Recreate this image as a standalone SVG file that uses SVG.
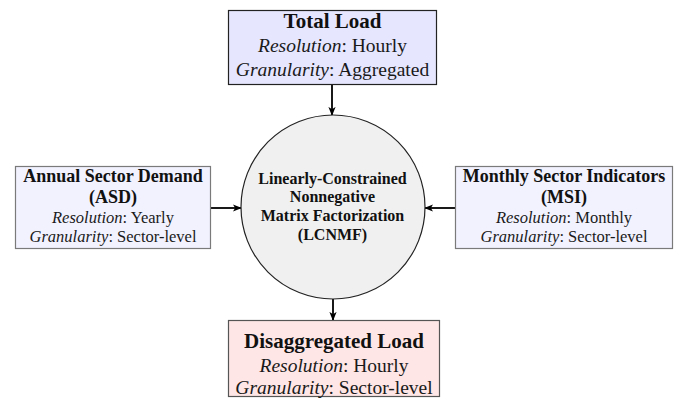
<svg xmlns="http://www.w3.org/2000/svg" width="678" height="406" viewBox="0 0 678 406">
<style>
text{font-family:"Liberation Serif","Times New Roman",serif;fill:#1a1a1a;text-anchor:middle}
.b{font-weight:bold;fill:#111}
.i{font-style:italic}
.big{font-size:21px}
.mid{font-size:19.5px}
.sb{font-size:18px}
.sm{font-size:16.5px}
.cb{font-size:16px;font-weight:bold;fill:#111}
.conn{stroke:#000;stroke-width:1.8;fill:none;marker-end:url(#ah)}
</style>
<defs>
<marker id="ah" viewBox="0 0 10 10" refX="9" refY="5" markerWidth="5" markerHeight="5" orient="auto" markerUnits="strokeWidth">
<path d="M0,1 L10,5 L0,9 L2.5,5 Z" fill="#000"/>
</marker>
</defs>
<rect width="678" height="406" fill="#fff"/>
<g id="connectors">
<line class="conn" x1="332" y1="85" x2="332" y2="115"/>
<line class="conn" x1="211" y1="208" x2="241" y2="208"/>
<line class="conn" x1="455" y1="208" x2="425" y2="208"/>
<line class="conn" x1="333" y1="299" x2="333" y2="320"/>
</g>
<g id="total-load">
<rect x="228.5" y="10.5" width="208" height="74" fill="#e6e6ff" stroke="#222" stroke-width="1.2"/>
<text class="b big" x="332.5" y="28">Total Load</text>
<text class="mid" x="332.5" y="52"><tspan class="i">Resolution</tspan>: Hourly</text>
<text class="mid" x="332.5" y="76"><tspan class="i">Granularity</tspan>: Aggregated</text>
</g>
<g id="lcnmf">
<circle cx="333" cy="207" r="92" fill="#f0f0f0" stroke="#222" stroke-width="1.2"/>
<text class="cb" x="332.5" y="184">Linearly-Constrained</text>
<text class="cb" x="332.5" y="202">Nonnegative</text>
<text class="cb" x="332.5" y="221">Matrix Factorization</text>
<text class="cb" x="332.5" y="240">(LCNMF)</text>
</g>
<g id="asd">
<rect x="15.5" y="166.5" width="195" height="82" fill="#f2f2ff" stroke="#7a7a7a" stroke-width="1.2"/>
<text class="b sb" x="113" y="182">Annual Sector Demand</text>
<text class="b sb" x="113" y="203">(ASD)</text>
<text class="sm" x="113" y="223"><tspan class="i">Resolution</tspan>: Yearly</text>
<text class="sm" x="113" y="242"><tspan class="i">Granularity</tspan>: Sector-level</text>
</g>
<g id="msi">
<rect x="455.5" y="166.5" width="217" height="82" fill="#f2f2ff" stroke="#7a7a7a" stroke-width="1.2"/>
<text class="b sb" x="564" y="182">Monthly Sector Indicators</text>
<text class="b sb" x="564" y="203">(MSI)</text>
<text class="sm" x="564" y="223"><tspan class="i">Resolution</tspan>: Monthly</text>
<text class="sm" x="564" y="242"><tspan class="i">Granularity</tspan>: Sector-level</text>
</g>
<g id="disaggregated-load">
<rect x="228.5" y="320.5" width="211" height="76" fill="#ffe6e6" stroke="#555" stroke-width="1.2"/>
<text class="b big" x="334" y="348">Disaggregated Load</text>
<text class="mid" x="334" y="372"><tspan class="i">Resolution</tspan>: Hourly</text>
<text class="mid" x="334" y="394"><tspan class="i">Granularity</tspan>: Sector-level</text>
</g>
</svg>
